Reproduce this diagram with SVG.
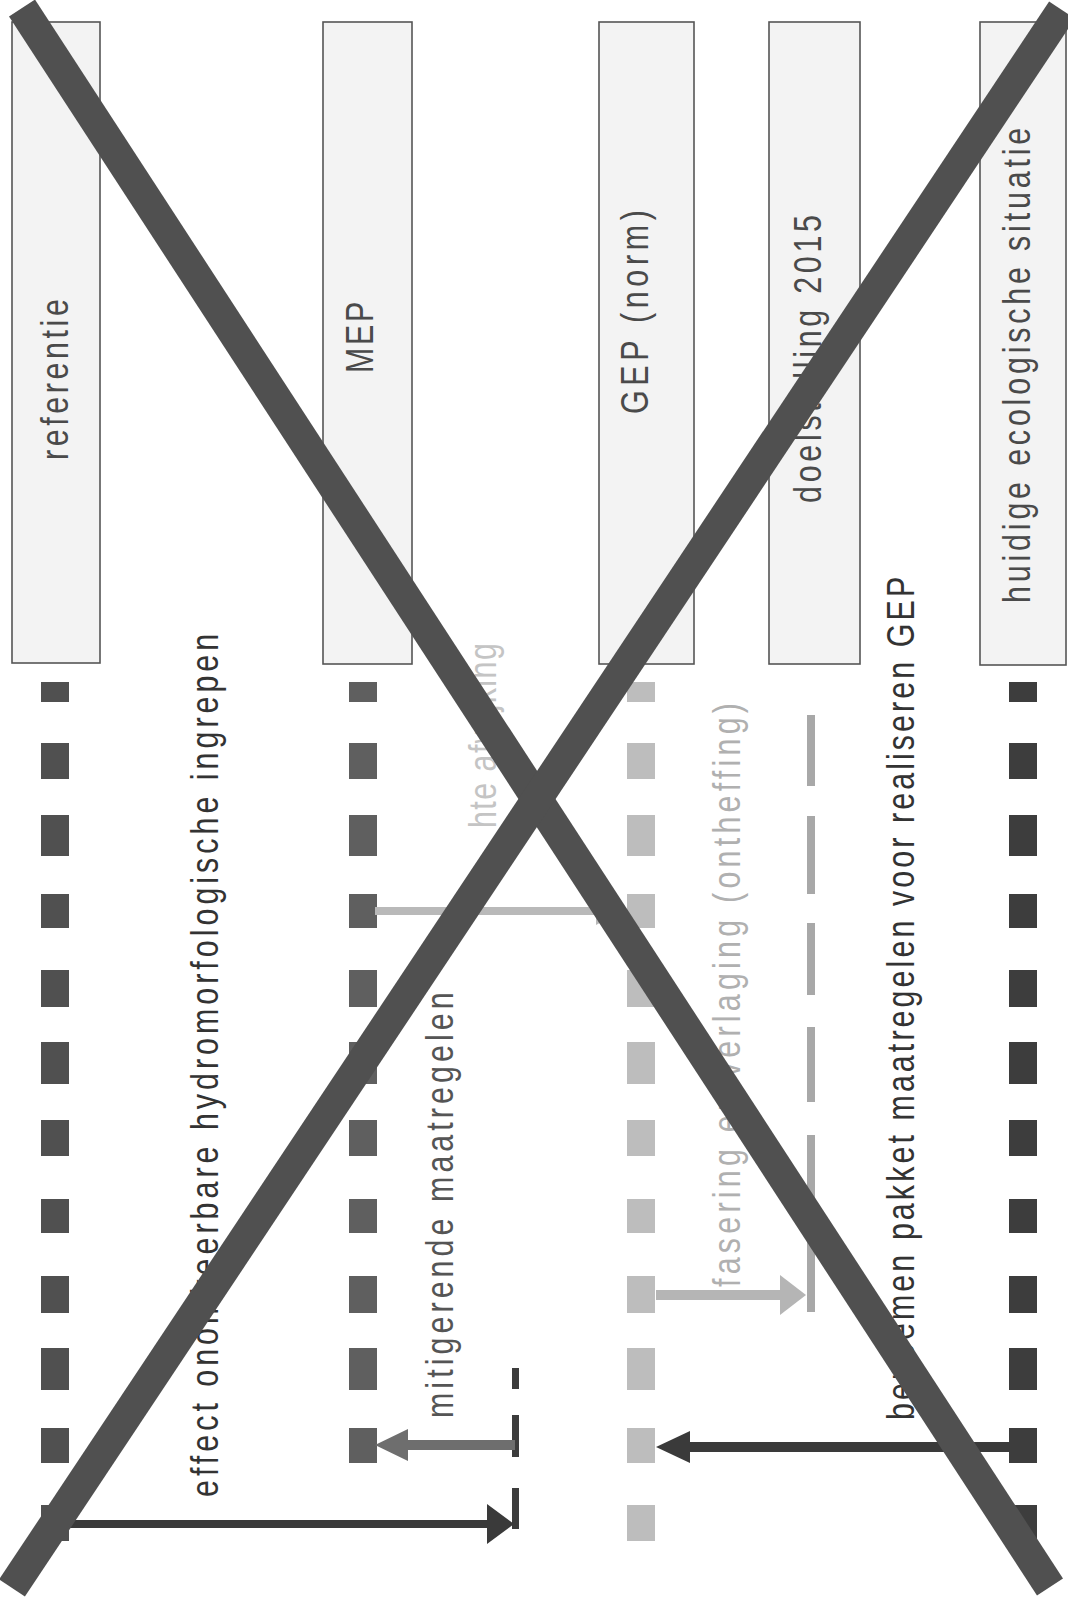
<svg xmlns="http://www.w3.org/2000/svg" xmlns:xlink="http://www.w3.org/1999/xlink" width="1068" height="1598" viewBox="0 0 1068 1598">
<style>
.box{fill:#f3f3f3;stroke:#555;stroke-width:1.6}
.lbl{font-family:"Liberation Sans",Arial,sans-serif;font-size:38px;fill:#4a4a4a}
.dark{fill:#333}
.mid{fill:#555}
.light{fill:#c4c4c4}
.light2{fill:#b0b0b0}
.cross{stroke:#505050;stroke-width:31;stroke-linecap:butt;fill:none}
</style>
<defs>
<g id="col">
<rect x="0" y="682" width="28" height="20"/>
<rect x="0" y="743" width="28" height="36"/>
<rect x="0" y="815" width="28" height="41"/>
<rect x="0" y="894" width="28" height="34"/>
<rect x="0" y="970" width="28" height="37"/>
<rect x="0" y="1042" width="28" height="42"/>
<rect x="0" y="1120" width="28" height="36"/>
<rect x="0" y="1199" width="28" height="34"/>
<rect x="0" y="1276" width="28" height="37"/>
<rect x="0" y="1348" width="28" height="42"/>
<rect x="0" y="1428" width="28" height="35"/>
</g>
</defs>
<rect width="1068" height="1598" fill="#fff"/>

<g id="referentie">
<rect class="box" x="12" y="22" width="88" height="641"/>
<text class="lbl" transform="translate(68,460) rotate(-90) scale(0.8,1)" textLength="201" lengthAdjust="spacing">referentie</text>
<use xlink:href="#col" x="41" fill="#505050"/>
<rect x="41" y="1505" width="28" height="36" fill="#505050"/>
</g>

<g id="mep">
<rect class="box" x="323" y="22" width="89" height="642"/>
<text class="lbl" transform="translate(373,373) rotate(-90) scale(0.8,1)" textLength="89" lengthAdjust="spacing">MEP</text>
<use xlink:href="#col" x="349" fill="#5f5f5f"/>
</g>

<g id="gep">
<rect class="box" x="599" y="22" width="95" height="642"/>
<text class="lbl" transform="translate(648,414) rotate(-90) scale(0.8,1)" textLength="255" lengthAdjust="spacing">GEP (norm)</text>
<use xlink:href="#col" x="627" fill="#bdbdbd"/>
<rect x="627" y="1505" width="28" height="36" fill="#bdbdbd"/>
</g>

<g id="doelstelling">
<rect class="box" x="769" y="22" width="91" height="642"/>
<text class="lbl" transform="translate(821,503) rotate(-90) scale(0.8,1)" textLength="360" lengthAdjust="spacing">doelstelling 2015</text>
<line x1="811" y1="715" x2="811" y2="1312" stroke="#a8a8a8" stroke-width="8" stroke-dasharray="71 30 78 29 72 32 75 33 72 29 76 0"/>
</g>

<g id="huidige">
<rect class="box" x="980" y="22" width="86" height="643"/>
<text class="lbl" transform="translate(1030,603) rotate(-90) scale(0.8,1)" textLength="594" lengthAdjust="spacing">huidige ecologische situatie</text>
<use xlink:href="#col" x="1009" fill="#3d3d3d"/>
<rect x="1009" y="1505" width="28" height="36" fill="#3d3d3d"/>
</g>

<g id="ticks">
<rect x="512" y="1368" width="7" height="21" fill="#3c3c3c"/>
<rect x="512" y="1415" width="7" height="42" fill="#3c3c3c"/>
<rect x="512" y="1488" width="7" height="41" fill="#3c3c3c"/>
</g>

<g id="labels">
<text class="lbl dark" transform="translate(218,1497) rotate(-90) scale(0.8,1)" textLength="1079" lengthAdjust="spacing">effect onomkeerbare hydromorfologische ingrepen</text>
<text class="lbl mid" transform="translate(453,1418) rotate(-90) scale(0.8,1)" textLength="532" lengthAdjust="spacing">mitigerende maatregelen</text>
<text class="lbl light" transform="translate(496,828) rotate(-90) scale(0.8,1)" textLength="231" lengthAdjust="spacing">hte afwijking</text>
<text class="lbl light2" transform="translate(740,1287) rotate(-90) scale(0.8,1)" textLength="730" lengthAdjust="spacing">fasering en verlaging (ontheffing)</text>
<text class="lbl dark" transform="translate(914,1420) rotate(-90) scale(0.8,1)" textLength="1054" lengthAdjust="spacing">benoemen pakket maatregelen voor realiseren GEP</text>
</g>

<g id="connectors">
<rect x="375" y="907" width="225" height="8" fill="#b9b9b9"/>
<polygon points="596,897 622,911 596,925" fill="#b9b9b9"/>
<rect x="656" y="1290" width="126" height="10" fill="#b5b5b5"/>
<polygon points="780,1275 806,1295 780,1315" fill="#b5b5b5"/>
<rect x="405" y="1440" width="110" height="10" fill="#6e6e6e"/>
<polygon points="375,1445 408,1429 408,1461" fill="#6e6e6e"/>
<rect x="688" y="1442" width="322" height="10" fill="#3a3a3a"/>
<polygon points="656,1447 690,1431 690,1463" fill="#3a3a3a"/>
<rect x="69" y="1520" width="422" height="8" fill="#3a3a3a"/>
<polygon points="487,1504 514,1524 487,1544" fill="#3a3a3a"/>
</g>

<g id="cross">
<line class="cross" x1="22" y1="8" x2="1050" y2="1587"/>
<line class="cross" x1="1062" y1="10" x2="12" y2="1588"/>
</g>
</svg>
